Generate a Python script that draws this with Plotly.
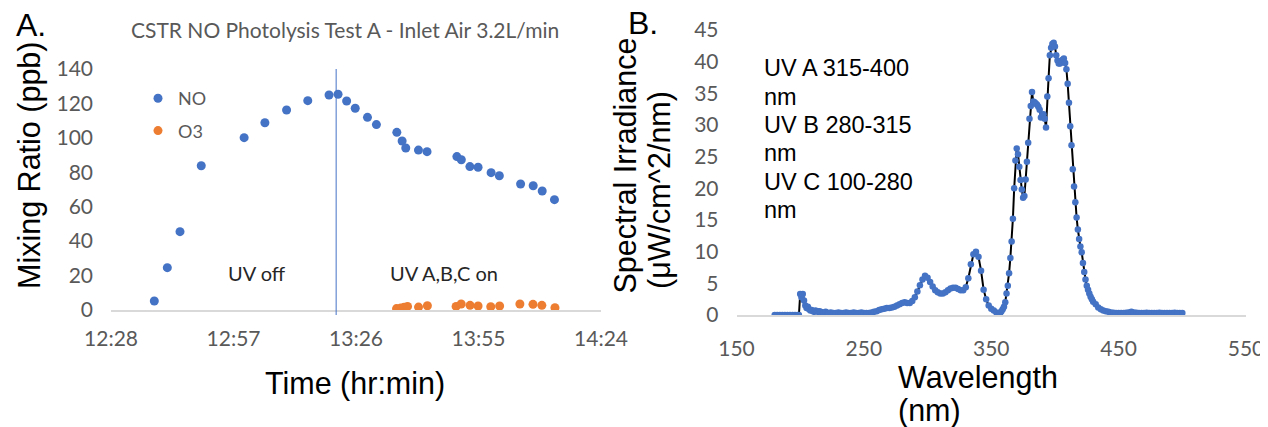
import plotly.graph_objects as go

# ---------------- Panel A data ----------------
DAY = "2020-01-01 "
NO_TIME = ["12:38:15", "12:41:20", "12:44:20", "12:49:22", "12:59:31", "13:04:26", "13:09:34",
           "13:14:35", "13:19:37", "13:21:45", "13:23:47", "13:25:49", "13:28:43", "13:30:50",
           "13:35:40", "13:36:55", "13:37:47", "13:40:47", "13:42:49", "13:49:53", "13:50:56",
           "13:52:58", "13:54:54", "13:57:59", "13:59:56", "14:04:58", "14:07:57", "14:10:05",
           "14:12:59"]
NO_PPB = [5.2, 24.6, 45.5, 83.8, 100.1, 108.8, 116.2, 121.6, 124.9, 125.3, 121.4, 117.2, 111.9,
          107.7, 103.2, 98.2, 94.1, 92.9, 92.0, 89.1, 87.3, 83.3, 82.9, 79.8, 78.0, 73.2, 72.2,
          69.1, 64.1]
O3_TIME = ["13:35:36", "13:36:36", "13:37:24", "13:38:12", "13:40:48", "13:42:54", "13:49:42",
           "13:50:54", "13:53:00", "13:54:54", "13:57:54", "14:00:00", "14:04:48", "14:07:54",
           "14:10:00", "14:13:06"]
O3_PPB = [0.8, 1.2, 1.6, 2.1, 1.7, 2.5, 2.1, 3.5, 2.7, 2.3, 1.9, 2.3, 3.5, 3.3, 2.7, 1.3]
UV_ON_TIME = "13:21:18"
TIME_TICKS = ["12:28", "12:57", "13:26", "13:55", "14:24"]
PPB_TICKS = [0, 20, 40, 60, 80, 100, 120, 140]

# ---------------- Panel B data ----------------
WAVELENGTH = ([180, 182, 184, 186, 188, 190, 192, 194, 196, 198]
              + list(range(199, 216))
              + list(range(216, 357, 2))
              + list(range(357, 431))
              + list(range(432, 501, 2)))
IRRADIANCE = (
    [0.0] * 10 +
    # 199-215
    [0.0, 3.3, 2.8, 3.3, 2.3, 1.5, 1.1, 1.3, 0.9, 0.7, 0.8, 0.6, 0.5, 0.7, 0.6, 0.5, 0.6] +
    # 216-356 step 2
    [0.5, 0.4, 0.5, 0.3, 0.4, 0.3, 0.3, 0.4, 0.3, 0.3, 0.4, 0.3, 0.3, 0.4, 0.3, 0.3, 0.4, 0.3,
     0.3, 0.3, 0.4, 0.5, 0.6, 0.8, 0.9, 1.0, 1.1, 1.1, 1.2, 1.3, 1.5, 1.7, 1.9, 2.0, 1.9, 1.9,
     2.2, 2.8, 3.7, 4.7, 5.6, 6.2, 5.9, 5.2, 4.5, 3.9, 3.6, 3.4, 3.4, 3.6, 3.9, 4.2, 4.3, 4.3,
     4.1, 3.9, 3.9, 4.4, 5.8, 8.0, 9.6, 10.0, 9.2, 7.0, 4.0, 2.5, 1.5, 1.0, 0.7, 0.4, 0.3] +
    # 357-430 step 1
    [0.3, 0.6, 0.9, 1.3, 2.0, 3.4, 4.6, 6.6, 9.0, 11.6, 15.2, 20.0, 24.4, 26.3, 25.4, 23.4,
     21.3, 19.8, 18.5, 18.8, 21.4, 24.2, 27.2, 31.0, 33.0, 35.2, 33.7, 33.6, 33.4, 33.2, 32.9,
     32.4, 31.2, 31.6, 31.7, 31.0, 29.6, 34.5, 37.4, 41.0, 42.2, 42.8, 43.0, 42.4, 41.0, 40.2,
     39.7, 39.7, 39.9, 40.3, 40.5, 39.8, 38.8, 36.5, 33.5, 29.8, 26.8, 23.0, 20.3, 17.8, 15.4,
     13.5, 12.0, 10.8, 9.9, 8.2, 6.8, 5.6, 4.6, 4.0, 3.4, 2.9, 2.5, 2.1] +
    # 432-500 step 2
    [1.7, 1.2, 0.9, 0.7, 0.6, 0.5, 0.4, 0.35, 0.3, 0.3, 0.3, 0.3, 0.35, 0.4, 0.5, 0.4, 0.35,
     0.3, 0.3, 0.3, 0.35, 0.3, 0.3, 0.3, 0.3, 0.35, 0.3, 0.3, 0.3, 0.3, 0.3, 0.35, 0.3, 0.3,
     0.3]
)
WL_TICKS = [150, 250, 350, 450, 550]
IRR_TICKS = [0, 5, 10, 15, 20, 25, 30, 35, 40, 45]
UV_BANDS = ["UV A 315-400", "nm", "UV B 280-315", "nm", "UV C 100-280", "nm"]

# page body has an 8px margin: the figure is placed at (8, 8)
OFF = 8
W, H = 1268 - OFF, 427 - OFF
BLUE = "#4472C4"
ORANGE = "#ED7D31"
GRAY = "#595959"
AXIS = "#D9D9D9"
TICKFONT = dict(family="Lato", size=21, color=GRAY)
ARIAL = "Liberation Sans, Arial"
BIG = dict(family=ARIAL, size=30.5, color="black")


def px(x):
    return (x - OFF) / W


def py(y):
    return 1 - (y - OFF) / H


fig = go.Figure()
fig.add_trace(go.Scatter(x=[DAY + t for t in NO_TIME], y=NO_PPB, mode="markers", name="NO",
                         marker=dict(color=BLUE, size=9), xaxis="x", yaxis="y", legendgroup="a"))
fig.add_trace(go.Scatter(x=[DAY + t for t in O3_TIME], y=O3_PPB, mode="markers", name="O3",
                         marker=dict(color=ORANGE, size=9), xaxis="x", yaxis="y", legendgroup="b"))
fig.add_trace(go.Scatter(x=WAVELENGTH, y=IRRADIANCE, mode="lines+markers", showlegend=False,
                         line=dict(color="black", width=2),
                         marker=dict(color=BLUE, size=6.5), xaxis="x2", yaxis="y2"))

tick_dates = [DAY + t for t in TIME_TICKS]
common = dict(showgrid=False, zeroline=False, tickfont=TICKFONT, ticks="", automargin=False)
fig.update_layout(
    width=W, height=H, margin=dict(l=0, r=0, t=0, b=0, autoexpand=False),
    paper_bgcolor="white", plot_bgcolor="white",
    xaxis=dict(domain=[px(111), px(601)], anchor="y", type="date",
               range=[tick_dates[0], tick_dates[-1]], tickvals=tick_dates, ticktext=TIME_TICKS,
               showline=True, linecolor=AXIS, linewidth=1.5, ticklabelstandoff=9, **common),
    yaxis=dict(domain=[py(310), py(69)], anchor="x", range=[0, 140], tickvals=PPB_TICKS,
               showline=False, ticklabelstandoff=17, **common),
    xaxis2=dict(domain=[px(736.5), px(1246)], anchor="y2", range=[150, 550], tickvals=WL_TICKS,
                showline=True, linecolor=AXIS, linewidth=1.5, ticklabelstandoff=14, **common),
    yaxis2=dict(domain=[py(315), py(30)], anchor="x2", range=[0, 45], tickvals=IRR_TICKS,
                showline=False, ticklabelstandoff=17, **common),
    legend=dict(x=px(138), y=py(80), xanchor="left", yanchor="top", bgcolor="rgba(0,0,0,0)",
                font=dict(family="Lato", size=18, color=GRAY), traceorder="grouped",
                tracegroupgap=6),
    showlegend=True,
)

fig.add_shape(type="line", xref="x", yref="paper", x0=DAY + UV_ON_TIME, x1=DAY + UV_ON_TIME,
              y0=py(315), y1=py(69), line=dict(color=BLUE, width=1))

ann = [
    dict(text="A.", x=px(30.5), y=py(25), font=dict(family=ARIAL, size=32, color="black")),
    dict(text="B.", x=px(643), y=py(23), font=dict(family=ARIAL, size=32, color="black")),
    dict(text="CSTR NO Photolysis Test A - Inlet Air 3.2L/min", x=px(344.5), y=py(30),
         font=dict(family="Lato", size=21, color=GRAY)),
    dict(text="Mixing Ratio (ppb)", x=px(29), y=py(165), textangle=-90, font=BIG),
    dict(text="Time (hr:min)", x=px(355), y=py(383), font=BIG),
    dict(text="UV off", x=px(257), y=py(273), font=dict(family="Lato", size=20, color="#262626")),
    dict(text="UV A,B,C on", x=px(444), y=py(273), font=dict(family="Lato", size=20, color="#262626")),
    dict(text="Spectral Irradiance", x=px(624.5), y=py(296), yanchor="bottom", textangle=-90,
         font=BIG),
    dict(text="(μW/cm^2/nm)", x=px(659), y=py(291), yanchor="bottom", textangle=-90, font=BIG),
    dict(text="Wavelength", x=px(896), y=py(377), xanchor="left", font=BIG),
    dict(text="(nm)", x=px(896), y=py(410), xanchor="left", font=BIG),
]
for i, line in enumerate(UV_BANDS):
    ann.append(dict(text=line, x=px(762), y=py(68.3 + i * 28.3), xanchor="left",
                    font=dict(family=ARIAL, size=23.5, color="black")))
for a in ann:
    a.setdefault("xref", "paper")
    a.setdefault("yref", "paper")
    a.setdefault("xanchor", "center")
    a.setdefault("yanchor", "middle")
    a.setdefault("showarrow", False)
    fig.add_annotation(**a)

fig.write_html("out.html")
